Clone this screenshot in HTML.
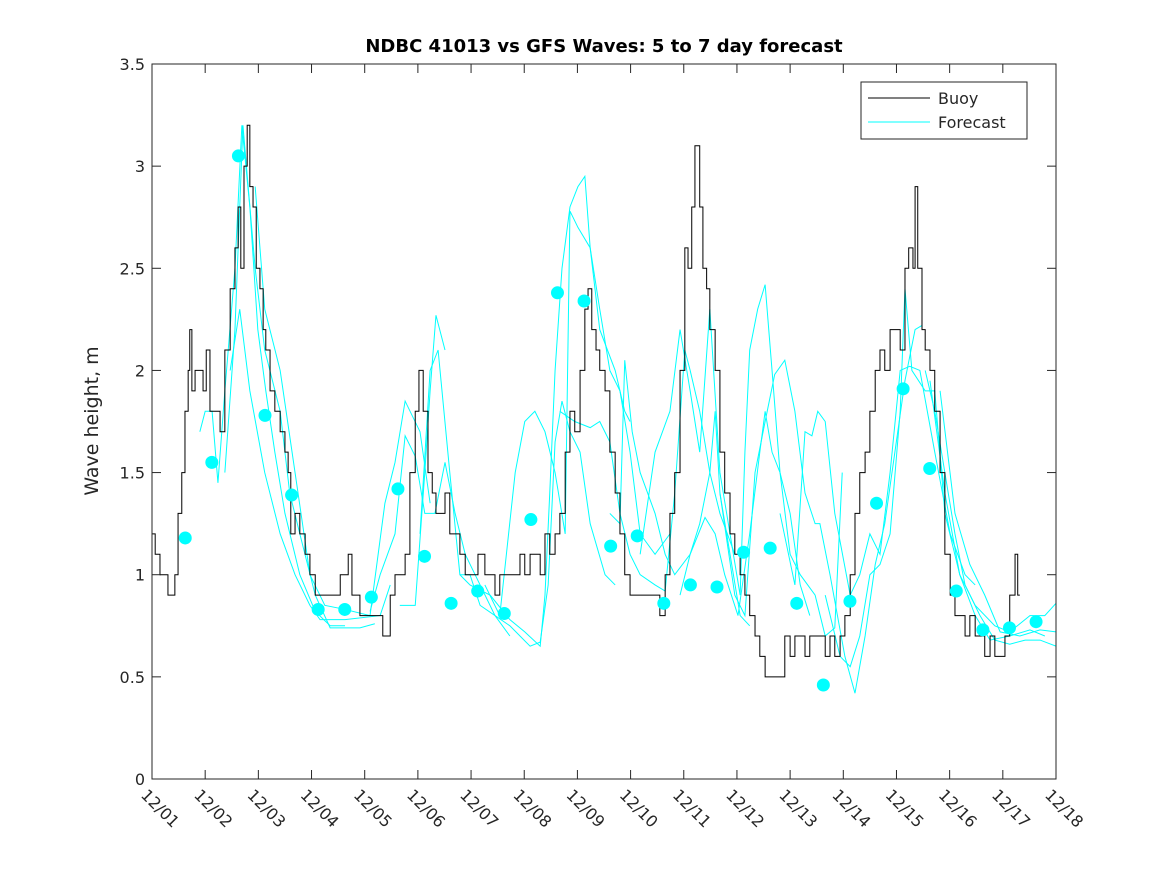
<!DOCTYPE html>
<html><head><meta charset="utf-8"><style>body{margin:0;background:#fff}svg{display:block}text{font-family:"DejaVu Sans","Liberation Sans",sans-serif;fill:#262626}</style></head>
<body>
<svg id="chart" width="1167" height="875" viewBox="0 0 1167 875">
<rect width="1167" height="875" fill="#fff"/>
<text x="604" y="52" text-anchor="middle" font-size="18" font-weight="bold" style="fill:#000">NDBC 41013 vs GFS Waves: 5 to 7 day forecast</text>
<text transform="translate(98,421) rotate(-90)" text-anchor="middle" font-size="19">Wave height, m</text>
<g id="plot"></g>
</svg>
<script>
const yTicks=[0,0.5,1,1.5,2,2.5,3,3.5];
const xTickLabels=["12/01","12/02","12/03","12/04","12/05","12/06","12/07","12/08","12/09","12/10","12/11","12/12","12/13","12/14","12/15","12/16","12/17","12/18"];
const buoy=[[0,1.2],[.06,1.1],[.15,1.0],[.24,1.0],[.3,0.9],[.38,0.9],[.43,1.0],[.49,1.3],[.56,1.5],[.62,1.8],[.68,2.0],[.71,2.2],[.75,1.9],[.81,2.0],[.9,2.0],[.96,1.9],[1.02,2.1],[1.09,1.8],[1.18,1.8],[1.28,1.7],[1.37,2.1],[1.47,2.4],[1.56,2.6],[1.62,2.8],[1.67,2.5],[1.73,3.0],[1.79,3.2],[1.84,2.9],[1.9,2.8],[1.96,2.5],[2.03,2.4],[2.09,2.2],[2.14,2.1],[2.22,1.9],[2.31,1.8],[2.41,1.7],[2.5,1.6],[2.56,1.5],[2.61,1.2],[2.69,1.3],[2.78,1.2],[2.88,1.1],[2.97,1.0],[3.07,0.9],[3.16,0.9],[3.35,0.9],[3.54,1.0],[3.69,1.1],[3.76,0.9],[3.91,0.8],[4.29,0.8],[4.34,0.7],[4.48,0.9],[4.57,1.0],[4.76,1.1],[4.85,1.5],[4.95,1.8],[5.02,2.0],[5.1,1.8],[5.19,1.5],[5.27,1.4],[5.34,1.3],[5.51,1.4],[5.6,1.2],[5.79,1.1],[5.89,1.0],[6.13,1.1],[6.26,1.0],[6.45,0.9],[6.54,1.0],[6.92,1.1],[7.01,1.0],[7.11,1.1],[7.3,1.0],[7.39,1.2],[7.48,1.1],[7.58,1.2],[7.67,1.3],[7.77,1.6],[7.86,1.8],[7.95,1.7],[8.05,2.0],[8.14,2.3],[8.2,2.4],[8.27,2.2],[8.35,2.1],[8.42,2.0],[8.52,1.9],[8.61,1.6],[8.71,1.4],[8.8,1.2],[8.89,1.0],[8.99,0.9],[9.55,0.8],[9.65,1.0],[9.74,1.3],[9.83,1.5],[9.93,2.0],[10.02,2.6],[10.08,2.5],[10.15,2.8],[10.21,3.1],[10.27,3.1],[10.3,2.8],[10.36,2.5],[10.43,2.4],[10.49,2.2],[10.59,2.0],[10.68,1.6],[10.77,1.4],[10.87,1.2],[10.96,1.1],[11.06,1.0],[11.15,0.9],[11.24,0.8],[11.34,0.7],[11.43,0.6],[11.53,0.5],[11.81,0.5],[11.9,0.7],[12.0,0.6],[12.09,0.7],[12.28,0.6],[12.37,0.7],[12.66,0.6],[12.75,0.7],[12.84,0.6],[12.94,0.7],[13.03,0.8],[13.13,1.0],[13.22,1.3],[13.31,1.5],[13.41,1.6],[13.5,1.8],[13.6,2.0],[13.69,2.1],[13.78,2.0],[13.88,2.2],[14.07,2.1],[14.16,2.5],[14.23,2.6],[14.31,2.5],[14.35,2.9],[14.4,2.5],[14.48,2.2],[14.54,2.1],[14.63,2.0],[14.72,1.8],[14.82,1.5],[14.91,1.1],[15.01,0.9],[15.1,0.8],[15.29,0.7],[15.38,0.8],[15.48,0.7],[15.66,0.6],[15.76,0.7],[15.85,0.6],[16.04,0.7],[16.13,0.9],[16.23,1.1],[16.28,0.9],[16.32,0.9]];
const dotStartDay=0.625, dotStepDay=0.5;
const dotValues=[1.18,1.55,3.05,1.78,1.39,0.83,0.83,0.89,1.42,1.09,0.86,0.92,0.81,1.27,2.38,2.34,1.14,1.19,0.86,0.95,0.94,1.11,1.13,0.86,0.46,0.87,1.35,1.91,1.52,0.92,0.73,0.74,0.77];
const fcA=[[.9,1.7],[1.0,1.8],[1.13,1.8],[1.24,1.45],[1.37,1.9],[1.56,2.5],[1.69,3.2],[1.84,2.8],[1.99,2.2],[2.14,1.9],[2.31,1.6],[2.5,1.3],[2.78,1.0],[3.07,.82],[3.35,.75],[3.63,.75]];
const fcB=[[1.37,1.5],[1.56,2.2],[1.71,3.2],[1.94,2.5],[2.12,2.1],[2.41,1.8],[2.59,1.4],[2.78,1.2],[3.07,.9],[3.35,.74],[3.91,.74],[4.19,.76]];
const fcC=[[1.47,2.0],[1.65,2.3],[1.84,1.9],[2.12,1.5],[2.41,1.2],[2.69,1.0],[2.97,.85],[3.16,.78],[3.63,.78],[4.29,.8],[4.48,.95]];
const fcD=[[1.94,2.9],[2.12,2.3],[2.41,2.0],[2.69,1.5],[2.97,1.0],[3.25,.85],[3.63,.83],[4.1,.8],[4.38,1.35],[4.57,1.55],[4.76,1.85],[5.04,1.7],[5.23,1.35]];
const fcE=[[4.1,.82],[4.29,1.0],[4.57,1.2],[4.76,1.68],[4.95,1.58],[5.13,1.3],[5.32,1.3],[5.51,1.55],[5.7,1.3],[5.89,1.1],[6.17,.95],[6.45,.8],[6.73,.7]];
const fcF=[[4.66,.85],[4.95,.85],[5.13,1.5],[5.23,1.9],[5.34,2.27],[5.51,2.1]];
const fcG=[[5.04,1.2],[5.23,2.0],[5.38,2.1],[5.6,1.5],[5.79,1.0],[5.98,.95],[6.36,.9],[6.73,.78],[7.01,.72],[7.3,.65],[7.39,.9],[7.48,1.4],[7.58,2.0],[7.71,2.5],[7.86,2.8],[8.01,2.9],[8.14,2.95],[8.24,2.6],[8.42,2.2],[8.71,2.0],[8.89,1.8],[8.99,1.75]];
const fcH=[[5.79,1.0],[5.98,1.0],[6.17,.85],[6.45,.8],[6.73,.75],[6.92,.7],[7.11,.65],[7.3,.67],[7.45,.95],[7.58,1.65],[7.71,1.85],[7.86,1.7],[8.05,1.6],[8.24,1.25],[8.52,1.0],[8.71,.95]];
const fcI=[[6.26,.95],[6.54,.8],[6.83,1.5],[7.01,1.75],[7.2,1.8],[7.39,1.7],[7.58,1.5],[7.77,1.2],[7.86,2.78],[8.01,2.7],[8.24,2.6],[8.42,2.3],[8.61,2.0],[8.8,1.9],[8.99,1.6],[9.18,1.2],[9.46,1.1],[9.74,1.2]];
const fcJ=[[7.67,1.8],[7.95,1.75],[8.24,1.72],[8.42,1.75],[8.61,1.65],[8.8,1.3],[8.99,1.1],[9.18,1.0],[9.46,.95],[9.65,.92],[9.83,1.4],[10.02,2.1],[10.12,2.0],[10.3,1.8],[10.49,1.5],[10.68,1.3],[10.96,1.1]];
const fcK=[[8.61,1.3],[8.8,1.25],[8.89,2.05],[9.03,1.7],[9.18,1.5],[9.46,1.3],[9.65,1.1],[9.83,1.0],[10.12,1.1],[10.3,1.25],[10.49,1.5],[10.59,1.8],[10.68,1.4],[11.06,.8],[11.24,.75]];
const fcL=[[9.18,1.1],[9.46,1.6],[9.74,1.8],[9.93,2.2],[10.12,1.9],[10.3,1.6],[10.49,2.3],[10.68,1.5],[10.87,1.2],[11.06,.9],[11.15,1.6],[11.24,2.1],[11.39,2.3],[11.53,2.42],[11.66,2.0],[11.81,1.5],[12.0,1.3],[12.19,.95],[12.37,.8]];
const fcM=[[9.93,.9],[10.12,1.1],[10.4,1.28],[10.59,1.2],[10.77,1.0],[11.02,.8],[11.24,1.2],[11.43,1.6],[11.53,1.8],[11.66,1.6],[11.81,1.5],[12.0,1.1],[12.19,1.0],[12.47,.9],[12.66,.7],[12.84,.74],[12.98,1.5]];
const fcN=[[10.68,1.4],[10.96,.9],[11.15,.8],[11.34,1.5],[11.53,1.75],[11.71,1.98],[11.9,2.05],[12.09,1.8],[12.28,1.4],[12.47,1.25],[12.56,1.25],[12.75,1.0],[13.03,.6],[13.22,.42],[13.41,.7],[13.6,1.05],[13.78,1.25],[13.97,1.6],[14.16,1.95],[14.35,2.2],[14.48,2.22]];
const fcO=[[11.81,1.3],[12.09,.95],[12.28,1.7],[12.41,1.68],[12.52,1.8],[12.66,1.75],[12.84,1.3],[13.13,.9],[13.31,1.0],[13.5,1.2],[13.69,1.1],[13.88,1.5],[14.07,2.0],[14.25,2.02],[14.44,2.0],[14.72,1.6],[15.01,1.2],[15.29,1.0],[15.48,.95]];
const fcP=[[12.66,.9],[12.94,.6],[13.13,.55],[13.31,.7],[13.5,1.0],[13.69,1.05],[13.88,1.2],[14.07,1.8],[14.16,2.4],[14.29,2.0],[14.54,1.9],[14.72,1.9],[14.91,1.3],[15.19,1.0],[15.48,.8],[15.76,.68],[16.13,.7],[16.51,.73],[16.79,.7]];
const fcR=[[14.54,2.0],[14.72,1.8],[14.91,1.5],[15.1,1.2],[15.29,.95],[15.57,.8],[15.85,.68],[16.13,.66],[16.42,.68],[16.7,.68],[17,.65]];
const fcS=[[14.63,1.95],[14.91,1.4],[15.19,1.0],[15.48,.85],[15.85,.75],[16.13,.72],[16.51,.8],[16.79,.8],[17,.86]];
const fcT=[[14.82,1.9],[15.1,1.3],[15.38,1.05],[15.66,.9],[15.95,.72],[16.32,.7],[16.7,.73],[17,.72]];
const forecasts=[fcA,fcB,fcC,fcD,fcE,fcF,fcG,fcH,fcI,fcJ,fcK,fcL,fcM,fcN,fcO,fcP,fcR,fcS,fcT];

const L=152,R=1056,T=64,B=779,XMAX=17,YMAX=3.5;
const xs=d=>L+(R-L)*d/XMAX, ys=v=>B-(B-T)*v/YMAX;
const NS="http://www.w3.org/2000/svg";
const g=document.getElementById('plot');
function mk(tag,attrs,parent){const e=document.createElementNS(NS,tag);for(const k in attrs)e.setAttribute(k,attrs[k]);(parent||g).appendChild(e);return e;}

const clip=mk('clipPath',{id:'pc'});mk('rect',{x:L,y:T,width:R-L,height:B-T},clip);
const series=mk('g',{'clip-path':'url(#pc)'});



forecasts.forEach((f,i)=>{
  const p=mk('polyline',{points:f.map(q=>xs(q[0])+','+ys(q[1])).join(' '),fill:'none',stroke:'#00ffff','stroke-width':1},series);
  
  
});
let pts=[];
buoy.forEach((q,i)=>{ if(i>0) pts.push(xs(q[0])+','+ys(buoy[i-1][1])); pts.push(xs(q[0])+','+ys(q[1])); });
const bl=mk('polyline',{points:pts.join(' '),fill:'none',stroke:'#000','stroke-width':1},series);


dotValues.forEach((v,i)=>{
  const c=mk('circle',{cx:xs(dotStartDay+dotStepDay*i),cy:ys(v),r:6.5,fill:'#00ffff'},series);
  
  
});

const ax=mk('rect',{x:L,y:T,width:R-L,height:B-T,fill:'none',stroke:'#262626','stroke-width':1});


yTicks.forEach(v=>{
  const y=ys(v);
  mk('line',{x1:L,x2:L+9,y1:y,y2:y,stroke:'#262626'});
  mk('line',{x1:R-9,x2:R,y1:y,y2:y,stroke:'#262626'});
  const t=mk('text',{x:L-7,y:y+6,'text-anchor':'end','font-size':16});
  t.textContent=String(v);
  
  
});
xTickLabels.forEach((s,i)=>{
  const x=xs(i);
  mk('line',{x1:x,x2:x,y1:B,y2:B-9,stroke:'#262626'});
  mk('line',{x1:x,x2:x,y1:T,y2:T+9,stroke:'#262626'});
  const t=mk('text',{transform:`translate(${x-12},${B+17}) rotate(45)`,'font-size':16});
  t.textContent=s;
  
  
});

const lg=mk('g',{});


mk('rect',{x:861,y:82,width:166,height:57,fill:'#fff',stroke:'#262626'},lg);
mk('line',{x1:868,x2:930,y1:98,y2:98,stroke:'#000'},lg);
mk('line',{x1:868,x2:930,y1:122,y2:122,stroke:'#00ffff'},lg);
const l1=mk('text',{x:938,y:104,'font-size':16},lg);l1.textContent='Buoy';


const l2=mk('text',{x:938,y:128,'font-size':16},lg);l2.textContent='Forecast';


</script>
</body></html>
